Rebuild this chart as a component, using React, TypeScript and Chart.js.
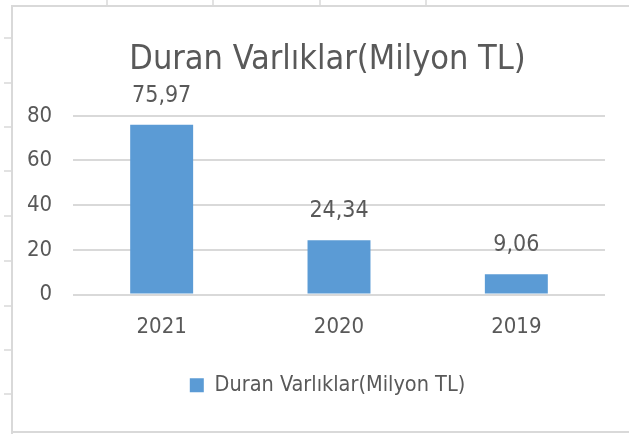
import React, { useEffect, useRef } from "react";
import { Chart, registerables } from "chart.js";

Chart.register(...registerables);

const categories = ["2021", "2020", "2019"];
const seriesName = "Duran Varlıklar(Milyon TL)";
const seriesValues = [75.97, 24.34, 9.06];
const yTicks = [0, 20, 40, 60, 80];

const FONT = "'Liberation Sans Narrow', 'DejaVu Sans Condensed', 'Liberation Sans', sans-serif";
const TEXT = "#595959";
const GRID = "#d9d9d9";
const BAR = "#5b9bd5";

const fmt = (v: number) => v.toFixed(2).replace(".", ",");

const sheetPlugin = {
  id: "sheet",
  beforeDraw(chart: any) {
    const ctx = chart.ctx;
    const w = chart.width;
    const h = chart.height;
    ctx.save();
    ctx.fillStyle = "#ffffff";
    ctx.fillRect(0, 0, w, h);
    ctx.strokeStyle = "#d9d9d9";
    ctx.lineWidth = 2;
    ctx.beginPath();
    ctx.moveTo(12, h);
    ctx.lineTo(12, 6);
    ctx.lineTo(w, 6);
    ctx.moveTo(12, 432);
    ctx.lineTo(w, 432);
    ctx.stroke();
    ctx.lineWidth = 1.5;
    ctx.beginPath();
    [38, 83, 127, 171, 216, 261, 306, 350, 394].forEach((y) => {
      ctx.moveTo(4, y);
      ctx.lineTo(11, y);
    });
    [107, 213, 320, 426].forEach((x) => {
      ctx.moveTo(x, 0);
      ctx.lineTo(x, 5);
    });
    ctx.stroke();
    ctx.restore();
  },
};

const valueLabels = {
  id: "valueLabels",
  afterDatasetsDraw(chart: any) {
    const ctx = chart.ctx;
    ctx.save();
    ctx.font = `23px ${FONT}`;
    ctx.fillStyle = TEXT;
    ctx.textAlign = "center";
    ctx.textBaseline = "alphabetic";
    const meta = chart.getDatasetMeta(0);
    meta.data.forEach((bar: any, i: number) => {
      const v = chart.data.datasets[0].data[i] as number;
      ctx.fillText(fmt(v), bar.x, bar.y - 23);
    });
    ctx.restore();
  },
};

export default function App() {
  const ref = useRef<HTMLCanvasElement | null>(null);
  useEffect(() => {
    document.body.style.margin = "0";
    const canvas = ref.current!;
    const chart = new Chart(canvas, {
      type: "bar",
      data: {
        labels: categories,
        datasets: [
          {
            label: seriesName,
            data: seriesValues,
            backgroundColor: BAR,
            borderWidth: 0,
            barPercentage: 0.355,
            categoryPercentage: 1,
          },
        ],
      },
      options: {
        animation: false,
        responsive: false,
        maintainAspectRatio: false,
        layout: { padding: { left: 50, right: 24, top: 0, bottom: 28 } },
        scales: {
          x: {
            grid: { display: false, drawTicks: false },
            border: { display: false },
            ticks: { color: TEXT, font: { family: FONT, size: 22 }, padding: 20 },
            afterFit: (s: any) => {
              s.height = 71;
            },
          },
          y: {
            min: 0,
            max: 80,
            afterBuildTicks: (s: any) => {
              s.ticks = yTicks.map((v) => ({ value: v }));
            },
            grid: { color: GRID, lineWidth: 2, drawTicks: false },
            border: { display: false },
            ticks: {
              color: TEXT,
              font: { family: FONT, size: 22 },
              mirror: true,
              crossAlign: "far",
              padding: -46,
            },
            afterFit: (s: any) => {
              s.width = 23;
            },
          },
        },
        plugins: {
          title: {
            display: true,
            text: seriesName,
            color: TEXT,
            font: { family: FONT, size: 34, weight: "normal" },
            padding: { top: 40, bottom: 35 },
          },
          legend: {
            display: true,
            position: "bottom",
            labels: {
              color: TEXT,
              font: { family: FONT, size: 21.5 },
              boxWidth: 14,
              boxHeight: 14,
              padding: 9,
            },
          },
          tooltip: { enabled: false },
        },
      },
      plugins: [sheetPlugin, valueLabels],
    });
    return () => chart.destroy();
  }, []);
  return (
    <div style={{ position: "relative", width: 629, height: 434 }}>
      <canvas ref={ref} width={629} height={434} style={{ display: "block" }} />
    </div>
  );
}
